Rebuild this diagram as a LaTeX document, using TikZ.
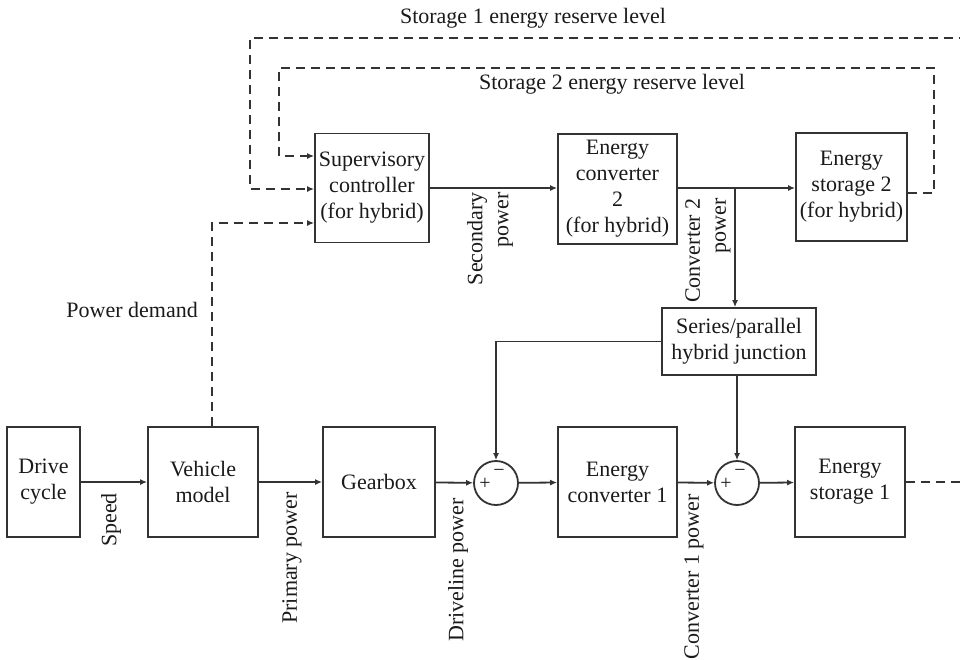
\documentclass[tikz,border=0pt]{standalone}
\usepackage{fontspec}
\setmainfont{Liberation Serif}
\usetikzlibrary{arrows.meta,calc}
\definecolor{ink}{HTML}{333333}
\definecolor{txt}{HTML}{1A1A1A}
\begin{document}
\begin{tikzpicture}[x=1pt,y=-1pt,
  every node/.style={text=txt,font=\fontsize{22}{26}\selectfont},
  blk/.style={draw=ink,line width=1.8pt,align=center,inner sep=0pt},
  sumc/.style={draw=ink,line width=1.8pt,circle,minimum size=44pt,inner sep=0pt},
  flow/.style={draw=ink,line width=1.8pt,-{Latex[length=7pt,width=6pt]}},
  ctrl/.style={draw=ink,line width=2.2pt,dash pattern=on 9pt off 6pt,-{Latex[length=7pt,width=6pt]}},
  lbl/.style={inner sep=0pt},
  sgn/.style={inner sep=0pt,font=\fontsize{20}{20}\selectfont}]
\clip (0,0) rectangle (960,659);

% lower chain
\node[blk,minimum width=73pt,minimum height=110pt] (drive) at (43.5,482) {Drive\\cycle};
\node[blk,minimum width=110pt,minimum height=110pt] (vehicle) at (203,482) {Vehicle\\model};
\node[blk,minimum width=112pt,minimum height=110pt] (gear) at (379,482) {Gearbox};
\node[sumc] (sum1) at (496,483) {};
\node[blk,minimum width=119pt,minimum height=110pt] (ec1) at (617.5,482) {Energy\\converter 1};
\node[sumc] (sum2) at (737,483) {};
\node[blk,minimum width=110pt,minimum height=110pt] (st1) at (850,482) {Energy\\storage 1};

% signs of the summing junctions
\node[sgn] (p1) at ($(sum1)+(-11,1)$) {+};
\node[sgn] (m1) at ($(sum1)+(3,-10)$) {\textminus};
\node[sgn] (p2) at ($(sum2)+(-11,1)$) {+};
\node[sgn] (m2) at ($(sum2)+(3,-10)$) {\textminus};

% hybrid branch
\node[blk,minimum width=114pt,minimum height=109pt] (sup) at (372,188) {Supervisory\\controller\\(for hybrid)};
\node[blk,minimum width=119pt,minimum height=110pt] (ec2) at (617.5,189) {Energy\\converter\\2\\(for hybrid)};
\node[blk,minimum width=111pt,minimum height=108pt] (st2) at (851.5,187) {Energy\\storage 2\\(for hybrid)};
\node[blk,minimum width=154pt,minimum height=67pt] (junc) at (739,341.5) {Series/parallel\\hybrid junction};

% power flows
\draw[flow] (drive) -- (vehicle);
\draw[flow] (vehicle) -- (gear);
\draw[flow] (gear) -- (sum1);
\draw[flow] (sum1) -- (ec1);
\draw[flow] (ec1) -- (sum2);
\draw[flow] (sum2) -- (st1);
\draw[flow] (sup.east) -- (sup.east -| ec2.west);
\draw[flow] (ec2.east |- sup.east) -- (sup.east -| st2.west);
\coordinate (tap) at (735,188);
\draw[flow] (tap) -- (tap |- junc.north);
\draw[flow] (junc.west) -| (sum1.north);
\draw[flow] (sum2.north |- junc.south) -- (sum2.north);

% control signals
\coordinate (pd) at (212,223);
\draw[ctrl] (pd |- vehicle.north) -- (pd) -- (pd -| sup.west);
\coordinate (r2) at (934,68);
\coordinate (l2) at (279,68);
\draw[ctrl] ([yshift=-6pt]st2.east) -| (r2) -- (l2) |- ([yshift=32pt]sup.west);
\coordinate (r1) at (985,38);
\coordinate (l1) at (250,38);
\draw[ctrl] (st1.east) -| (r1) -- (l1) |- ([yshift=-1pt]sup.west);

% signal labels
\node[lbl] (t1) at (533,18) {Storage 1 energy reserve level};
\node[lbl] (t2) at (612,84) {Storage 2 energy reserve level};
\node[lbl,anchor=base east] (dem) at (198,317) {Power demand};
\node[lbl,rotate=90,anchor=east] (spd) at (111,493) {Speed};
\node[lbl,rotate=90,anchor=east] (prim) at (292,492) {Primary power};
\node[lbl,rotate=90,anchor=east] (drv) at (458,498) {Driveline power};
\node[lbl,rotate=90,anchor=east] (c1p) at (694,494) {Converter 1 power};
\node[lbl,rotate=90,anchor=east,align=right] (sec) at (490,192) {Secondary\\power};
\node[lbl,rotate=90,anchor=east,align=right] (c2p) at (708,198) {Converter 2\\power};
\end{tikzpicture}
\end{document}
